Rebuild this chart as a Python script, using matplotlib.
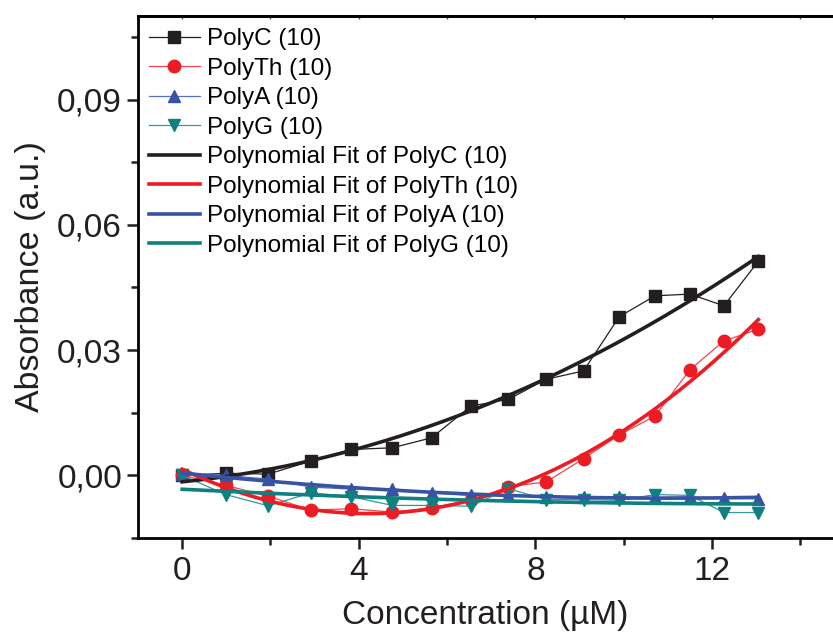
import numpy as np
import matplotlib
matplotlib.use('AGG')
import matplotlib.pyplot as plt
from matplotlib.ticker import MultipleLocator, FuncFormatter

plt.rcParams['font.family'] = ['Liberation Sans', 'DejaVu Sans']

# concentration (uM)
conc = [0, 0.99, 1.95, 2.91, 3.83, 4.76, 5.65, 6.54, 7.39, 8.24, 9.09, 9.9, 10.71, 11.5, 12.27, 13.05]

poly_c = [0.0, 0.0005, 0.0003, 0.0034, 0.0062, 0.0066, 0.009, 0.0166, 0.0182, 0.023,
          0.025, 0.038, 0.043, 0.0434, 0.0406, 0.0513]
poly_th = [0.0, -0.0024, -0.005, -0.0083, -0.008, -0.0088, -0.0078, -0.006, -0.0027, -0.0016,
           0.004, 0.0097, 0.0142, 0.0253, 0.0322, 0.035]
poly_a = [0.0003, 0.0, -0.0009, -0.0028, -0.0033, -0.0032, -0.0042, -0.0048, -0.0046, -0.0052,
          -0.0053, -0.0051, -0.0053, -0.0051, -0.0055, -0.0056]
poly_g = [0.0, -0.0046, -0.0073, -0.0042, -0.0051, -0.0072, -0.0072, -0.0074, -0.0032, -0.0058,
          -0.0058, -0.006, -0.0046, -0.0048, -0.0089, -0.0089]

series = [
    ('PolyC (10)', poly_c, '#231f20', '#231f20', 's', 2),
    ('PolyTh (10)', poly_th, '#ed1c24', '#f0474d', 'o', 2),
    ('PolyA (10)', poly_a, '#3953a4', '#5b72b8', '^', 2),
    ('PolyG (10)', poly_g, '#0f8080', '#2e9a9a', 'v', 2),
]

fig = plt.figure(figsize=(8.33, 6.33), dpi=100)
ax = fig.add_axes([138 / 833, 95 / 633, 695 / 833, 522 / 633])

for name, y, col, lcol, mk, deg in series:
    ax.plot(conc, y, color=lcol, lw=0.9, marker=mk, ms=9, mfc=col, mec=col,
            label=name, zorder=3)

# polynomial fits of each series
x_fit = np.linspace(0, conc[-1], 200)
for name, y, col, lcol, mk, deg in series:
    coef = np.polyfit(conc, y, deg)
    ax.plot(x_fit, np.polyval(coef, x_fit), color=col, lw=2.6,
            label='Polynomial Fit of ' + name, zorder=4)

ax.set_xlim(-1, 14.74)
ax.set_ylim(-0.015, 0.11)
ax.xaxis.set_major_locator(MultipleLocator(4))
ax.xaxis.set_minor_locator(MultipleLocator(2))
ax.yaxis.set_major_locator(MultipleLocator(0.03))
ax.yaxis.set_minor_locator(MultipleLocator(0.015))
ax.yaxis.set_major_formatter(FuncFormatter(lambda v, p: ('%.2f' % v).replace('.', ',')))

ax.spines['right'].set_visible(False)
for s in ['left', 'bottom', 'top']:
    ax.spines[s].set_linewidth(2)
ax.tick_params(which='both', direction='out', width=1.8, labelsize=24, colors='#231f20')
ax.tick_params(which='major', length=8)
ax.tick_params(which='minor', length=5)
ax.tick_params(axis='x', which='major', pad=5)

# tiny marks on the top spine
sec = ax.secondary_xaxis('top')
sec.xaxis.set_major_locator(MultipleLocator(2))
sec.tick_params(direction='in', length=2.5, width=1, labeltop=False, colors='#555555')
sec.spines['top'].set_linewidth(2)
sec.spines['top'].set_color('#231f20')

ax.set_xlabel('Concentration (µM)', fontsize=24, color='#231f20', labelpad=9)
ax.set_ylabel('Absorbance (a.u.)', fontsize=24.5, color='#231f20', labelpad=8)

ax.legend(loc='upper left', frameon=False, fontsize=17.5, handlelength=2.1,
          handletextpad=0.3, labelspacing=0.31, borderaxespad=0.1,
          bbox_to_anchor=(-0.002, 1.0))

plt.savefig('out.png', dpi=100)
